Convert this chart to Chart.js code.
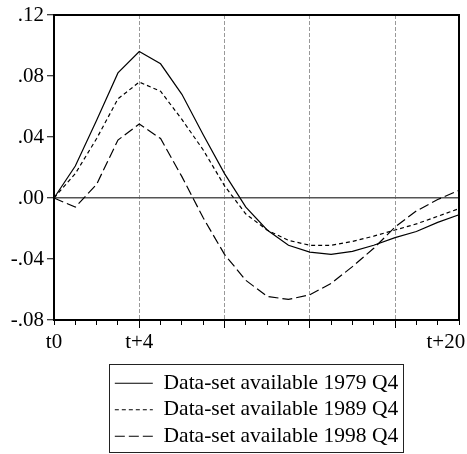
<!DOCTYPE html>
<html>
<head>
<meta charset="utf-8">
<script src="https://cdn.jsdelivr.net/npm/chart.js@4.4.1/dist/chart.umd.min.js"></script>
<style>
  body { margin: 0; background: #fff; }
  #wrap { width: 467px; height: 454px; }
</style>
</head>
<body>
<div id="wrap"><canvas id="irf" width="467" height="454"></canvas></div>
<script>
// horizon steps, t0 .. t+20 (20 observations)
const steps = [0, 1, 2, 3, 4, 5, 6, 7, 8, 9, 10, 11, 12, 13, 14, 15, 16, 17, 18, 19];
const xTickText = ["t0", "", "", "", "t+4", "", "", "", "", "", "", "", "", "", "", "", "", "", "", "t+20"];
const yTicks = [-0.08, -0.04, 0.00, 0.04, 0.08, 0.12];

const seriesNames = ["Data-set available 1979 Q4", "Data-set available 1989 Q4", "Data-set available 1998 Q4"];
const s1979 = [0, 0.021, 0.051, 0.082, 0.096, 0.088, 0.068, 0.0415, 0.016, -0.006, -0.021, -0.031, -0.0355, -0.037, -0.035, -0.031, -0.026, -0.022, -0.016, -0.011];
const s1989 = [0, 0.016, 0.039, 0.065, 0.076, 0.070, 0.0515, 0.0315, 0.008, -0.0105, -0.021, -0.0278, -0.031, -0.031, -0.0285, -0.025, -0.021, -0.017, -0.012, -0.007];
const s1998 = [0, -0.006, 0.009, 0.038, 0.0485, 0.039, 0.014, -0.013, -0.037, -0.054, -0.0645, -0.0665, -0.0635, -0.056, -0.045, -0.033, -0.019, -0.0085, -0.001, 0.005];

const majorSteps = [4, 8, 12, 16];

Chart.defaults.font.family = "'Liberation Serif', 'Times New Roman', serif";
Chart.defaults.font.size = 21;
Chart.defaults.color = "#000";

// box frame round the plot + box round the legend
const framePlugin = {
    id: "frame",
    afterDatasetsDraw(chart) {
        const { ctx, chartArea: a } = chart;
        ctx.save();
        ctx.strokeStyle = "#000";
        ctx.lineWidth = 2;
        ctx.strokeRect(a.left, a.top, a.right - a.left, a.bottom - a.top);
        ctx.restore();
    },
    afterDraw(chart) {
        const boxes = chart.legend.legendHitBoxes;
        if (!boxes || !boxes.length) return;
        const left = Math.min(...boxes.map(b => b.left)) - 6;
        const right = Math.max(...boxes.map(b => b.left + b.width)) + 5;
        const top = boxes[0].top - 9;
        const last = boxes[boxes.length - 1];
        const bottom = last.top + last.height + 4;
        const ctx = chart.ctx;
        ctx.save();
        ctx.strokeStyle = "#222";
        ctx.lineWidth = 1;
        ctx.strokeRect(Math.round(left) + 0.5, Math.round(top) + 0.5, Math.round(right - left), Math.round(bottom - top));
        ctx.restore();
    }
};

const lineStyle = (data, i, dash) => ({
    label: seriesNames[i],
    data: data,
    borderColor: "#000",
    backgroundColor: "#000",
    borderWidth: 1.2,
    borderDash: dash,
    pointRadius: 0,
    tension: 0,
    fill: false
});

new Chart(document.getElementById("irf"), {
    type: "line",
    data: {
        labels: steps,
        datasets: [
            lineStyle(s1979, 0, []),
            lineStyle(s1989, 1, [4, 3]),
            lineStyle(s1998, 2, [10, 4])
        ]
    },
    options: {
        responsive: false,
        animation: false,
        devicePixelRatio: 1,
        layout: { padding: { top: 15, right: 8, left: 0, bottom: -3 } },
        plugins: {
            tooltip: { enabled: false },
            legend: {
                position: "bottom",
                fullSize: false,
                align: "center",
                labels: {
                    usePointStyle: true,
                    pointStyle: "line",
                    pointStyleWidth: 38,
                    padding: 5,
                    color: "#000",
                    font: { size: 21.5 },
                    // point styles carry no dash, so build the items from the datasets
                    generateLabels: (chart) => chart.data.datasets.map((ds, i) => ({
                        text: ds.label,
                        datasetIndex: i,
                        fillStyle: "#000",
                        strokeStyle: "#000",
                        fontColor: "#000",
                        lineWidth: 1.2,
                        lineDash: ds.borderDash,
                        pointStyle: "line",
                        hidden: false
                    }))
                }
            }
        },
        scales: {
            x: {
                type: "category",
                offset: false,
                border: {
                    color: "#000",
                    width: 2,
                    dash: [4, 2]
                },
                grid: {
                    offset: false,
                    color: (c) => majorSteps.includes(c.index) ? "#999" : "rgba(0,0,0,0)",
                    lineWidth: 1,
                    tickColor: "#000",
                    tickWidth: 1,
                    tickLength: 8,
                    tickBorderDash: (c) => majorSteps.includes(c.index) ? [] : [4, 20]
                },
                ticks: {
                    autoSkip: false,
                    maxRotation: 0,
                    padding: 2,
                    callback: (v, i) => i === xTickText.length - 1 ? xTickText[i] + "\u2002\u2002 " : xTickText[i]
                },
                afterFit: (s) => {
                    s.height = 47.5;
                    s.paddingLeft = 0;
                    s.paddingRight = 0;
                }
            },
            y: {
                min: -0.08,
                max: 0.12,
                border: { color: "#000", width: 2 },
                grid: {
                    color: (c) => c.tick && c.tick.value === 0 ? "#555" : "rgba(0,0,0,0)",
                    lineWidth: 1.5,
                    tickColor: "#000",
                    tickWidth: 1,
                    tickLength: 7
                },
                ticks: {
                    padding: 3,
                    callback: (v) => (Math.round(v * 100) / 100).toFixed(2).replace("0.", ".")
                },
                afterBuildTicks: (s) => {
                    s.ticks = yTicks.map(v => ({ value: v }));
                },
                afterFit: (s) => {
                    s.width = 54;
                    s.paddingTop = 0;
                    s.paddingBottom = 0;
                }
            }
        }
    },
    plugins: [framePlugin]
});
</script>
</body>
</html>
